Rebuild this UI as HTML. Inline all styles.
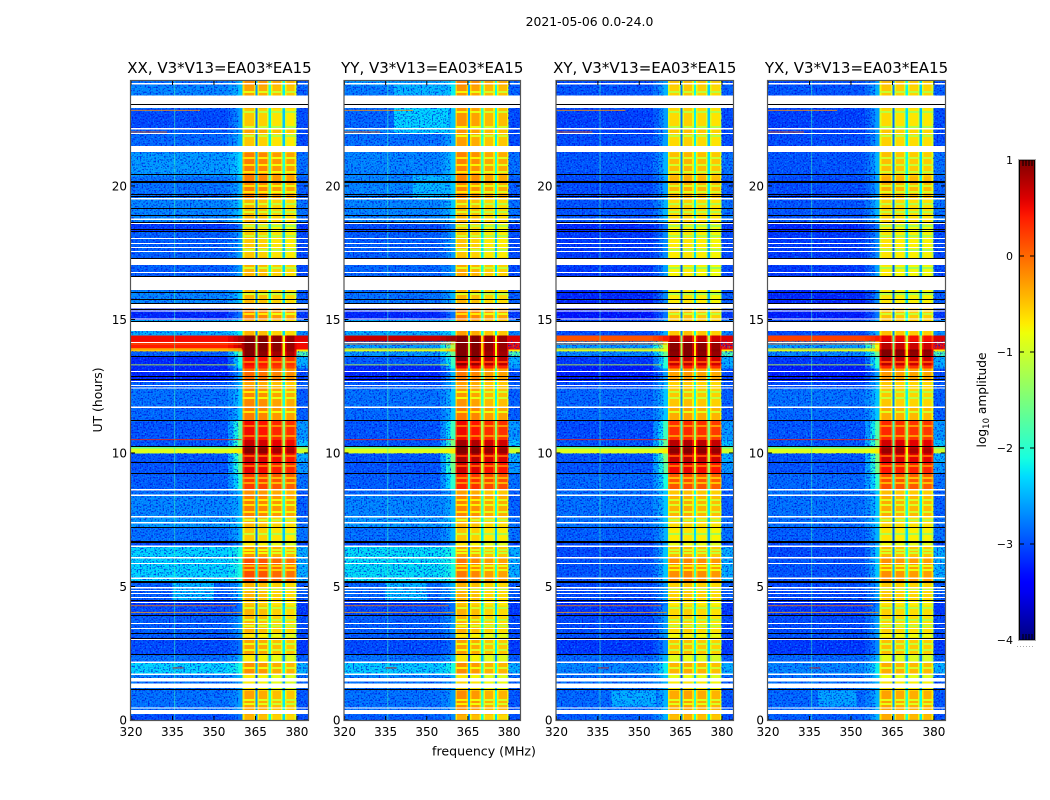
<!DOCTYPE html>
<html>
<head>
<meta charset="utf-8">
<title>2021-05-06 amplitude spectrograms</title>
<style>
html,body{margin:0;padding:0;background:#fff;}
svg{display:block;}
text{font-family:"DejaVu Sans","Liberation Sans",sans-serif;fill:#000;}
</style>
</head>
<body>
<svg id="figure" xmlns="http://www.w3.org/2000/svg" width="1050" height="800" viewBox="0 0 1050 800">
  <defs>
    <filter id="speckleLight" x="0" y="0" width="100%" height="100%" color-interpolation-filters="sRGB">
      <feTurbulence type="fractalNoise" baseFrequency="0.62" numOctaves="1" seed="4"/>
      <feColorMatrix type="matrix" values="0 0 0 0 0  0 0 0 0 0.75  0 0 0 0 1  5 0 0 0 -2.55"/>
    </filter>
    <filter id="speckleDark" x="0" y="0" width="100%" height="100%" color-interpolation-filters="sRGB">
      <feTurbulence type="fractalNoise" baseFrequency="0.62" numOctaves="1" seed="11"/>
      <feColorMatrix type="matrix" values="0 0 0 0 0  0 0 0 0 0  0 0 0 0 0.85  5 0 0 0 -2.5"/>
    </filter>
  </defs>
  <text x="589.5" y="26" text-anchor="middle" font-size="12.4">2021-05-06 0.0-24.0</text>
  <text transform="translate(102,400) rotate(-90)" text-anchor="middle" font-size="12.4">UT (hours)</text>
  <text x="484" y="755.5" text-anchor="middle" font-size="12.6">frequency (MHz)</text>
  <g id="panels"></g>
  <g id="colorbar"></g>
  <text transform="translate(986,400) rotate(-90)" text-anchor="middle" font-size="12.2">log<tspan font-size="8.5" dy="3">10</tspan><tspan dy="-3"> amplitude</tspan></text>
</svg>
<script>
// ---- categories ----
const panelTitles = ["XX, V3*V13=EA03*EA15", "YY, V3*V13=EA03*EA15", "XY, V3*V13=EA03*EA15", "YX, V3*V13=EA03*EA15"];
const freqTicks = [320, 335, 350, 365, 380];
const utTicks = [0, 5, 10, 15, 20];
const cbarTicks = [1, 0, -1, -2, -3, -4];
const freqEdges = [320, 355, 357, 358.7, 360.4, 361, 364.4, 365, 365.7, 366.3, 369.2, 369.8, 370.6, 371.2, 374.2, 374.8, 375.6, 376.2, 379.2, 379.8, 384];
const binRoles = ["low", "wing", "wing", "wing", "rim", "ch", "rim", "div", "rim", "ch", "rim", "div", "rim", "ch", "rim", "div", "rim", "ch", "rim", "edge"];
const binChannel = [0, 0, 0, 0, 0, 0, 0, 0, 1, 1, 1, 1, 2, 2, 2, 2, 3, 3, 3, 3];
const wingMix = [0, 0.3, 0.65, 1];
const rimDrop = 0.32;
const channelFrom = [360.4, 365.7, 370.6, 375.6];
const channelTo = [365, 369.8, 374.8, 379.8];
const speckleFrom = [320, 379.8];
const speckleTo = [358.7, 384];
const utEdges = [
  0, 0.22, 1.12, 1.46, 1.76, 2.17, 2.47, 3.11, 3.26, 3.93,
  4.31, 4.49, 5.21, 6.10, 6.52, 6.70, 7.23, 7.64, 8.43, 8.65,
  9.25, 9.68, 10.0, 10.19, 10.26, 10.5, 11.24, 11.7, 12.43, 12.7,
  13.18, 13.29, 13.63, 13.82, 13.9, 14.2, 14.42, 15.0, 15.6, 16.1,
  17.04, 17.34, 18.31, 18.65, 19.51, 20.37, 21.27, 21.98, 22.17, 22.92,
  23.78, 23.93];

// ---- series values: log10 amplitude per time row ----
const lowXX = [
  -3.0,-2.8,-2.8,-2.7,-2.3,-2.8,-3.0,-2.9,-2.9,-3.0,
  -3.1,-2.9,-2.3,-2.3,-3.0,-2.8,-2.6,-2.7,-2.8,-2.9,
  -2.95,-2.95,-0.9,-1.7,-2.95,-2.95,-2.85,-2.8,-2.9,-3.2,
  -3.2,-3.2,-2.9,-0.5,0.4,0.5,-2.5,-3.2,-2.7,-2.9,
  -2.9,-2.9,-3.1,-2.7,-2.8,-2.6,-2.85,-2.9,-3.0,-2.7,-2.8];
const lowYY = [
  -2.9,-2.8,-2.8,-2.7,-2.35,-2.8,-3.0,-2.9,-2.9,-3.0,
  -3.1,-2.85,-2.25,-2.25,-3.0,-2.8,-2.6,-2.7,-2.85,-2.9,
  -2.95,-2.95,-0.9,-1.7,-2.95,-2.95,-2.85,-2.8,-2.9,-3.2,
  -3.2,-2.9,-2.6,-0.9,-2.6,0.7,-2.5,-3.2,-2.8,-2.85,
  -2.9,-2.9,-3.0,-2.7,-2.7,-2.7,-2.8,-2.7,-2.85,-2.75,-2.6];
const lowXY = [
  -2.9,-2.85,-2.8,-2.8,-2.7,-2.85,-3.1,-2.95,-3.0,-3.1,
  -3.15,-3.0,-2.95,-3.0,-3.0,-2.9,-2.8,-2.8,-2.8,-2.85,
  -2.95,-2.95,-0.9,-1.7,-2.95,-3.0,-2.85,-2.85,-3.0,-3.25,
  -3.25,-3.1,-2.7,-0.9,-2.6,0.1,-3.0,-3.3,-3.2,-3.1,
  -3.0,-3.1,-3.2,-2.95,-3.0,-2.95,-3.0,-3.05,-3.05,-2.95,-3.0];
const lowYX = [
  -2.9,-2.85,-2.8,-2.8,-2.7,-2.85,-3.1,-2.95,-3.0,-3.1,
  -3.15,-3.0,-2.95,-3.0,-3.0,-2.9,-2.8,-2.8,-2.8,-2.85,
  -2.95,-2.95,-0.9,-1.7,-2.95,-2.95,-2.85,-2.8,-3.0,-3.25,
  -3.25,-3.1,-2.7,-0.9,-2.6,0.2,-3.0,-3.25,-3.2,-3.1,
  -3.0,-3.1,-3.2,-2.95,-3.0,-2.95,-3.0,-3.05,-3.05,-2.95,-3.0];

const wingXX = [
  -2.8,-2.6,-2.6,-2.5,-2.1,-2.5,-2.8,-2.7,-2.6,-2.8,
  -2.8,-2.5,-2.1,-2.1,-2.7,-2.5,-2.4,-2.5,-2.5,-2.0,
  -1.7,-1.6,-0.7,-1.4,-1.6,-1.7,-2.4,-2.4,-2.5,-2.6,
  -2.2,-2.1,-1.7,-0.3,0.7,0.8,-2.2,-2.8,-2.4,-2.6,
  -2.6,-2.6,-2.8,-2.4,-2.5,-2.3,-2.5,-2.6,-2.6,-2.4,-2.5];
const wingYY = [
  -2.7,-2.6,-2.6,-2.5,-2.1,-2.5,-2.8,-2.7,-2.6,-2.8,
  -2.8,-2.5,-2.1,-2.1,-2.7,-2.5,-2.4,-2.5,-2.5,-2.0,
  -1.6,-1.5,-0.7,-1.3,-1.5,-1.9,-2.4,-2.4,-2.5,-2.5,
  -2.1,-1.9,-1.6,-0.4,-1.2,0.9,-2.2,-2.8,-2.5,-2.6,
  -2.6,-2.6,-2.7,-2.4,-2.4,-2.4,-2.5,-2.4,-2.4,-2.2,-2.3];
const wingXY = [
  -2.5,-2.5,-2.5,-2.4,-2.2,-2.5,-2.7,-2.6,-2.6,-2.7,
  -2.8,-2.6,-2.4,-2.4,-2.6,-2.5,-2.4,-2.4,-2.4,-2.1,
  -1.7,-1.5,-0.7,-1.3,-1.6,-1.9,-2.4,-2.4,-2.5,-2.6,
  -2.1,-2.0,-1.6,-0.8,-1.0,0.4,-2.5,-2.8,-2.7,-2.6,
  -2.5,-2.7,-2.8,-2.5,-2.6,-2.5,-2.6,-2.6,-2.6,-2.5,-2.6];
const wingYX = [
  -2.5,-2.5,-2.5,-2.4,-2.2,-2.5,-2.7,-2.6,-2.6,-2.7,
  -2.8,-2.6,-2.4,-2.4,-2.6,-2.5,-2.4,-2.4,-2.4,-2.0,
  -1.6,-1.5,-0.7,-1.3,-1.5,-1.8,-2.4,-2.4,-2.5,-2.6,
  -2.1,-2.0,-1.6,-0.6,-0.8,0.4,-2.5,-2.8,-2.7,-2.6,
  -2.5,-2.7,-2.8,-2.5,-2.6,-2.5,-2.6,-2.6,-2.6,-2.5,-2.6];

const bandXX = [
  -0.5,-0.4,-0.8,-0.8,-0.3,-0.8,-0.4,-0.8,-0.5,-0.5,
  -0.6,-0.5,0.05,-0.3,-0.8,-0.6,-0.5,-0.2,-0.3,0.15,
  0.45,0.55,0.9,0.8,0.6,0.4,-0.2,-0.25,-0.4,-0.1,
  0.3,0.4,0.9,1.0,1.0,1.0,-0.5,-0.2,-0.5,-0.5,
  -0.4,-0.6,-0.7,-0.5,-0.2,-0.2,-0.6,-0.4,-0.6,-0.4,-0.3];
const bandYY = [
  -0.5,-0.3,-0.7,-0.8,-0.3,-0.8,-0.4,-0.8,-0.5,-0.5,
  -0.6,-0.5,-0.2,-0.4,-0.8,-0.6,-0.5,-0.25,-0.4,0.25,
  0.55,0.7,1.0,0.9,0.75,0.4,-0.2,-0.35,-0.4,-0.2,
  0.45,0.85,0.95,1.0,1.0,1.0,-0.4,-0.2,-0.5,-0.45,
  -0.4,-0.6,-0.65,-0.5,-0.25,-0.25,-0.4,-0.35,-0.35,-0.35,-0.25];
const bandXY = [
  -0.45,-0.35,-0.7,-0.85,-0.4,-0.9,-0.5,-0.8,-0.6,-0.6,
  -0.7,-0.55,-0.2,-0.45,-0.85,-0.7,-0.6,-0.4,-0.5,0.1,
  0.5,0.7,0.95,0.85,0.75,0.3,-0.35,-0.5,-0.55,-0.3,
  0.35,0.7,0.95,1.0,0.95,0.7,-0.5,-0.5,-0.7,-0.75,
  -0.65,-0.7,-0.75,-0.6,-0.4,-0.45,-0.6,-0.5,-0.6,-0.55,-0.5];
const bandYX = [
  -0.4,-0.35,-0.7,-0.85,-0.4,-0.9,-0.5,-0.8,-0.6,-0.6,
  -0.7,-0.55,-0.25,-0.45,-0.85,-0.7,-0.6,-0.4,-0.5,0.1,
  0.4,0.6,0.85,0.75,0.6,0.3,-0.4,-0.55,-0.55,-0.3,
  0.3,0.7,0.95,1.0,0.7,0.5,-0.5,-0.5,-0.7,-0.75,
  -0.65,-0.7,-0.75,-0.6,-0.4,-0.5,-0.6,-0.55,-0.65,-0.55,-0.5];

const edgeXX = [
  -3.0,-2.95,-2.9,-2.8,-2.5,-2.9,-3.1,-3.0,-3.0,-3.1,
  -3.1,-2.9,-2.5,-2.5,-3.0,-2.8,-2.8,-2.9,-2.9,-2.8,
  -2.6,-2.5,-1.0,-1.6,-2.4,-2.6,-2.9,-2.9,-2.9,-3.0,
  -2.6,-2.5,-1.8,-0.7,0.5,0.6,-2.7,-3.1,-2.9,-3.0,
  -3.0,-3.0,-3.1,-2.8,-2.9,-2.8,-3.0,-3.0,-3.0,-2.9,-2.9];
const edgeYY = edgeXX.slice();
const edgeXY = edgeXX.slice();
const edgeYX = edgeXX.slice();

const channelXX = [0.1, 0.05, -0.05, -0.1];
const channelYY = [0.12, 0.05, -0.08, -0.1];
const channelXY = [0.0, 0.05, 0.0, -0.05];
const channelYX = [0.05, 0.0, -0.02, -0.03];
const dividerDrop = [2.2, 1.6, 1.8];

// ---- flagged / marker features ----
const whiteGapsUT = [
  [23.79,23.85],[22.91,23.39],[22.12,22.17],[21.95,21.99],[21.27,21.5],[19.5,19.54],[18.73,18.78],[18.58,18.61],
  [18.01,18.05],[17.83,17.87],[17.68,17.72],[17.53,17.57],[17.04,17.28],[16.74,16.78],[16.1,16.61],[15.41,15.58],
  [15.3,15.34],[15.0,15.04],[14.57,14.93],[14.12,14.16],[13.03,13.07],[12.66,12.7],[12.51,12.55],[12.42,12.45],
  [11.69,11.74],[8.6,8.65],[8.39,8.45],[7.58,7.64],[7.36,7.42],[6.48,6.54],[6.05,6.1],[5.84,5.88],[5.28,5.34],
  [4.93,4.98],[4.83,4.87],[4.72,4.76],[4.57,4.61],[4.38,4.42],[3.6,3.64],[3.41,3.45],[3.0,3.04],[2.13,2.19],
  [1.69,1.74],[1.44,1.57],[1.2,1.37],[0.43,0.47],[0.22,0.37]];
const blackLinesUT = [
  23.05,20.45,20.2,20.14,19.7,19.64,19.18,18.91,18.65,18.4,18.33,17.32,16.63,16.02,15.77,15.61,15.4,14.96,
  13.62,12.88,12.76,11.22,10.25,9.67,9.24,7.22,6.7,6.66,5.22,5.18,4.49,3.94,3.25,3.08,2.46,1.16];
const rfiRowUT = [22.02, 22.83, 4.28, 4.03, 10.5, 1.95, 13.3, 14.08, 13.9];
const rfiRowValue = [0.1, -0.2, -0.1, -0.3, 0.4, 0.6, -1.0, 0.0, -0.7];
const rfiRowFrom = [320, 320, 320, 320, 320, 335, 320, 320, 320];
const rfiRowTo = [333, 345, 358, 360, 360, 339, 358, 360, 360];
const rfiColumnFreq = [335.6];
const rfiColumnValue = [-1.9];
const bandStripeUT = [
  23.52,22.77,22.21,21.87,21.05,20.79,20.52,20,19.78,19.33,19.03,18.5,18.13,17.6,16.93,15.96,15.21,13.41,
  12.28,12.06,11.54,11.01,10.64,9.89,9.51,9.06,8.88,8.24,8.05,7.79,7.49,6.97,6.37,6.25,5.77,5.62,4.87,4.19,
  3.75,3.52,2.85,2.62,1.95,1.5,0.75,0.6];
const bandStripeDrop = [0.55];
const patchPanel = [1, 1, 1, 0, 1, 2, 3, 1];
const patchUTFrom = [21.98, 22.17, 23.4, 4.5, 4.5, 0.5, 0.5, 19.5];
const patchUTTo = [22.17, 22.92, 23.78, 5.2, 5.2, 1.1, 1.1, 20.4];
const patchFreqFrom = [338, 338, 338, 335, 335, 340, 338, 345];
const patchFreqTo = [358, 358, 358, 350, 350, 356, 352, 358];
const patchLevel = [-2.35, -2.3, -2.45, -2.45, -2.45, -2.5, -2.55, -2.45];

// ---- layout (not data) ----
const panelBox = [[131,177],[344.5,175.5],[556.5,176.5],[768,177]];
const plotTop = 81, plotBottom = 720;
const freqMin = 320, freqMax = 384, utMax = 23.93, levelMin = -4, levelMax = 1;
const SVGNS = "http://www.w3.org/2000/svg";

const lowSeries = [lowXX, lowYY, lowXY, lowYX];
const wingSeries = [wingXX, wingYY, wingXY, wingYX];
const bandSeries = [bandXX, bandYY, bandXY, bandYX];
const edgeSeries = [edgeXX, edgeYY, edgeXY, edgeYX];
const channelSeries = [channelXX, channelYY, channelXY, channelYX];

function interp(stops, t) {
  for (let i = 1; i < stops.length; i++) {
    if (t <= stops[i][0]) {
      const a = stops[i - 1], b = stops[i];
      return a[1] + (b[1] - a[1]) * (t - a[0]) / (b[0] - a[0]);
    }
  }
  return stops[stops.length - 1][1];
}
const jetR = [[0,0],[0.35,0],[0.66,1],[0.89,1],[1,0.5]];
const jetG = [[0,0],[0.125,0],[0.375,1],[0.64,1],[0.91,0],[1,0]];
const jetB = [[0,0.5],[0.11,1],[0.34,1],[0.65,0],[1,0]];
function jet(level) {
  const t = Math.max(0, Math.min(1, (level - levelMin) / (levelMax - levelMin)));
  const c = s => Math.round(255 * interp(s, t));
  return "rgb(" + c(jetR) + "," + c(jetG) + "," + c(jetB) + ")";
}
function yScale(ut) { return plotBottom - (plotBottom - plotTop) * ut / utMax; }
function xScale(box, f) { return box[0] + box[1] * (f - freqMin) / (freqMax - freqMin); }
function cbarY(level) { return 160 + 480 * (levelMax - level) / (levelMax - levelMin); }
function make(parent, tag, attrs) {
  const el = document.createElementNS(SVGNS, tag);
  for (const k in attrs) el.setAttribute(k, attrs[k]);
  parent.appendChild(el);
  return el;
}
function rowAt(ut) {
  for (let r = 0; r < utEdges.length - 1; r++) {
    if (ut < utEdges[r + 1]) return r;
  }
  return utEdges.length - 2;
}
function cellLevel(p, r, b) {
  const role = binRoles[b], ch = binChannel[b];
  if (role === "low") return lowSeries[p][r];
  if (role === "wing") return lowSeries[p][r] + (wingSeries[p][r] - lowSeries[p][r]) * wingMix[b];
  if (role === "edge") return edgeSeries[p][r];
  if (role === "div") return bandSeries[p][r] - dividerDrop[ch];
  if (role === "rim") return bandSeries[p][r] + channelSeries[p][ch] - rimDrop;
  return bandSeries[p][r] + channelSeries[p][ch];
}

const panelsRoot = document.getElementById("panels");
panelTitles.forEach(function (title, p) {
  const box = panelBox[p];
  const g = make(panelsRoot, "g", {});
  
  

  const titleEl = make(g, "text", { x: box[0] + box[1] / 2, y: 73, "text-anchor": "middle", "font-size": 15 });
  titleEl.textContent = title;
  
  

  const cells = make(g, "g", { "shape-rendering": "crispEdges" });
  
  
  for (let r = 0; r < utEdges.length - 1; r++) {
    for (let b = 0; b < freqEdges.length - 1; b++) {
      const x0 = xScale(box, freqEdges[b]), x1 = xScale(box, freqEdges[b + 1]);
      const y0 = yScale(utEdges[r + 1]), y1 = yScale(utEdges[r]);
      const cell = make(cells, "rect", { x: x0, y: y0, width: x1 - x0 + 0.5, height: y1 - y0 + 0.5, fill: jet(cellLevel(p, r, b)) });
      
      
    }
  }
  patchPanel.forEach(function (pp, i) {
    if (pp !== p) return;
    const patch = make(cells, "rect", {
      x: xScale(box, patchFreqFrom[i]), y: yScale(patchUTTo[i]),
      width: xScale(box, patchFreqTo[i]) - xScale(box, patchFreqFrom[i]),
      height: yScale(patchUTFrom[i]) - yScale(patchUTTo[i]),
      fill: jet(patchLevel[i])
    });
    
    
  });
  bandStripeUT.forEach(function (ut) {
    const r = rowAt(ut);
    channelFrom.forEach(function (f, ch) {
      const stripe = make(cells, "rect", {
        x: xScale(box, f), y: yScale(ut) - 1,
        width: xScale(box, channelTo[ch]) - xScale(box, f), height: 2,
        fill: jet(bandSeries[p][r] + channelSeries[p][ch] - bandStripeDrop[0])
      });
      
      
    });
  });

  // speckle texture over the quiet low-band rows only
  const clipId = "quiet" + p;
  const defs = make(g, "defs", {});
  const clip = make(defs, "clipPath", { id: clipId });
  for (let r = 0; r < utEdges.length - 1; r++) {
    if (lowSeries[p][r] < -2) {
      make(clip, "rect", { x: box[0], y: yScale(utEdges[r + 1]), width: box[1], height: yScale(utEdges[r]) - yScale(utEdges[r + 1]) });
    }
  }
  const tex = make(g, "g", { "clip-path": "url(#" + clipId + ")" });
  
  
  [["#speckleLight", 0.45], ["#speckleDark", 0.7]].forEach(function (sp) {
    speckleFrom.forEach(function (f, i) {
      make(tex, "rect", {
        x: xScale(box, f), y: plotTop,
        width: xScale(box, speckleTo[i]) - xScale(box, f), height: plotBottom - plotTop,
        filter: "url(" + sp[0] + ")", opacity: sp[1]
      });
    });
  });

  rfiColumnFreq.forEach(function (f, i) {
    const colLine = make(g, "rect", { x: xScale(box, f), y: plotTop, width: 1, height: plotBottom - plotTop, fill: jet(rfiColumnValue[i]), opacity: 0.55 });
    
    
  });
  rfiRowUT.forEach(function (ut, i) {
    const rowLine = make(g, "rect", {
      x: xScale(box, rfiRowFrom[i]), y: yScale(ut) - 0.5,
      width: xScale(box, rfiRowTo[i]) - xScale(box, rfiRowFrom[i]), height: 1,
      fill: jet(rfiRowValue[i]), opacity: 0.8
    });
    
    
  });
  whiteGapsUT.forEach(function (gap) {
    const gapEl = make(g, "rect", { x: box[0], y: yScale(gap[1]), width: box[1], height: Math.max(1, yScale(gap[0]) - yScale(gap[1])), fill: "#fff", "shape-rendering": "crispEdges" });
    
    
  });
  blackLinesUT.forEach(function (ut) {
    const lineEl = make(g, "rect", { x: box[0], y: Math.round(yScale(ut)), width: box[1], height: 1, fill: "#000", "shape-rendering": "crispEdges" });
    
    
  });

  // ticks and labels
  freqTicks.forEach(function (f) {
    const x = xScale(box, f);
    const t1 = make(g, "line", { x1: x, x2: x, y1: plotBottom, y2: plotBottom - 4, stroke: "#000", "stroke-width": 1 });
    
    
    const t2 = make(g, "line", { x1: x, x2: x, y1: plotTop, y2: plotTop + 4, stroke: "#000", "stroke-width": 1 });
    
    
    const lab = make(g, "text", { x: x, y: 736, "text-anchor": "middle", "font-size": 12 });
    lab.textContent = f;
    
    
  });
  utTicks.forEach(function (u) {
    const y = yScale(u);
    const t1 = make(g, "line", { x1: box[0], x2: box[0] + 4, y1: y, y2: y, stroke: "#000", "stroke-width": 1 });
    
    
    const t2 = make(g, "line", { x1: box[0] + box[1], x2: box[0] + box[1] - 4, y1: y, y2: y, stroke: "#000", "stroke-width": 1 });
    
    
    const lab = make(g, "text", { x: box[0] - 4, y: y + 4.5, "text-anchor": "end", "font-size": 12 });
    lab.textContent = u;
    
    
  });
  const frame = make(g, "rect", { x: box[0] - 0.5, y: plotTop - 0.5, width: box[1] + 1, height: plotBottom - plotTop + 1, fill: "none", stroke: "#555", "stroke-width": 1.2 });
  
  
});

// ---- colorbar ----
const cb = document.getElementById("colorbar");
const gradDefs = make(cb, "defs", {});
const grad = make(gradDefs, "linearGradient", { id: "jetGrad", x1: 0, y1: 0, x2: 0, y2: 1 });
for (let i = 0; i <= 50; i++) {
  make(grad, "stop", { offset: (i / 50), "stop-color": jet(levelMax - (levelMax - levelMin) * i / 50) });
}
const cbBar = make(cb, "rect", { x: 1019.5, y: 160, width: 15, height: 480, fill: "url(#jetGrad)", stroke: "#000", "stroke-width": 1 });


const cbEdge = make(cb, "rect", { x: 1018.5, y: 159.5, width: 17, height: 481, fill: "none", stroke: "#aaa", "stroke-width": 1 });


cbarTicks.forEach(function (v) {
  const y = cbarY(v);
  if (v < levelMax && v > levelMin) {
    const l = make(cb, "line", { x1: 1019.5, x2: 1024, y1: y, y2: y, stroke: "#000" });
    
    
    const rt = make(cb, "line", { x1: 1030, x2: 1034.5, y1: y, y2: y, stroke: "#000" });
    
    
  }
  const lab = make(cb, "text", { x: 1013, y: y + 4, "text-anchor": "end", "font-size": 11 });
  lab.textContent = v < 0 ? "\u2212" + Math.abs(v) : String(v);
  
  
});
[1023, 1026, 1029, 1032].forEach(function (x) {
  const top = make(cb, "line", { x1: x, x2: x, y1: 160, y2: 166, stroke: "#000" });
  
  
  const bottom = make(cb, "line", { x1: x, x2: x, y1: 634, y2: 640, stroke: "#000" });
  
  
});
const dots = make(cb, "line", { x1: 1017, x2: 1035, y1: 646.5, y2: 646.5, stroke: "#aaa", "stroke-width": 1, "stroke-dasharray": "1 2" });


</script>
</body>
</html>
